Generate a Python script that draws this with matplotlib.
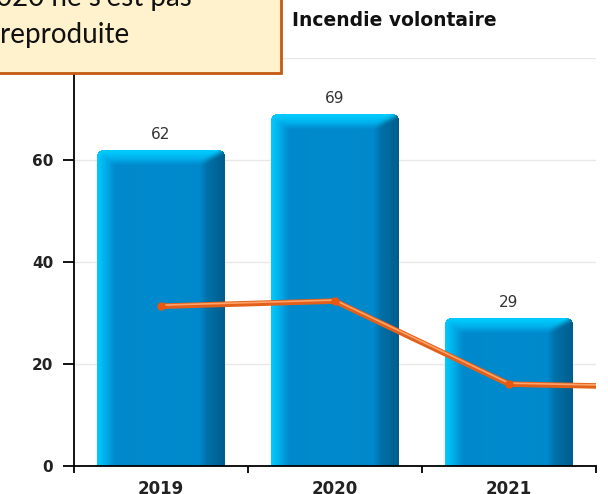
import numpy as np
import matplotlib
matplotlib.use("Agg")
import matplotlib.pyplot as plt
from matplotlib.patches import Rectangle
from matplotlib.transforms import offset_copy

# Data
years = ["2019", "2020", "2021"]
counts = [62, 69, 29]
# orange line (runs on past the last visible year)
trend_x = [0, 1, 2, 3]
trend = [31.3, 32.3, 16.0, 15.3]
y_ticks = [0, 20, 40, 60, 80]

W, H = 608, 494
fig = plt.figure(figsize=(W / 100, H / 100), dpi=100)
ax = fig.add_axes([74 / W, (H - 465.7) / H, (596 - 74) / W, (465.7 - 58) / H])

ax.set_xlim(-0.5, len(years) - 0.5)
ax.set_ylim(0, 80)

# plain bars first, the bevel image is laid over them
bars = ax.bar(range(len(years)), counts, width=0.73, color="#0089cc", zorder=2)
fig.canvas.draw()


def box_blur(a, k):
    # separable box blur with edge padding
    pad = k // 2
    kern = np.ones(k) / k
    a = np.pad(a, ((pad, pad), (pad, pad), (0, 0)), mode="edge")
    a = np.apply_along_axis(lambda r: np.convolve(r, kern, mode="valid"), 1, a)
    a = np.apply_along_axis(lambda c: np.convolve(c, kern, mode="valid"), 0, a)
    return a


def bevel_image(wpx, hpx):
    u = np.arange(wpx)[None, :] + 0.5
    v = np.arange(hpx)[:, None] + 0.5
    u = np.broadcast_to(u, (hpx, wpx))
    v = np.broadcast_to(v, (hpx, wpx))
    tl = u / 16.0
    tr = (wpx - u) / 22.0
    tt = v / 12.0
    rgb = np.zeros((hpx, wpx, 3))
    rgb[...] = np.array([0, 137, 204]) / 255

    def blend(c0, c1, t):
        t = np.clip(t, 0, 1)[..., None]
        return (np.array(c0) * (1 - t) + np.array(c1) * t) / 255

    m = np.minimum(np.minimum(tl, tr), tt)
    left = (tl == m) & (m < 1)
    right = (tr == m) & (m < 1) & ~left
    top = (tt == m) & (m < 1) & ~left & ~right
    rgb[left] = blend([0, 206, 255], [0, 145, 212], tl)[left]
    rgb[right] = blend([0, 92, 140], [0, 118, 175], tr)[right]
    rgb[top] = blend([0, 208, 255], [0, 165, 230], tt)[top]
    rgb = box_blur(rgb, 7)

    img = np.ones((hpx, wpx, 4))
    img[..., :3] = np.clip(rgb, 0, 1)
    # rounded top corners
    r = 6.0
    for cx in (r, wpx - r):
        d = np.hypot(u - cx, v - r)
        zone = (v < r) & ((u < r) | (u > wpx - r)) & (np.abs(u - cx) <= r)
        img[zone & (d > r), 3] = 0
    return img


for b in bars:
    x0, y0 = b.get_x(), b.get_y()
    x1, y1 = x0 + b.get_width(), y0 + b.get_height()
    p0 = ax.transData.transform((x0, y0))
    p1 = ax.transData.transform((x1, y1))
    wpx = int(round(p1[0] - p0[0]))
    hpx = int(round(p1[1] - p0[1]))
    ax.imshow(bevel_image(wpx, hpx), extent=(x0, x1, y0, y1), aspect="auto",
              interpolation="bilinear", zorder=3)
    b.set_visible(False)

ax.set_xlim(-0.5, len(years) - 0.5)
ax.set_ylim(0, 80)

# value labels
for i, c in enumerate(counts):
    ax.annotate(str(c), (i, c), xytext=(0, 11), textcoords="offset points",
                ha="center", va="center", fontsize=11, color="#333333", zorder=6)

# trend line with a light stripe on top
ax.plot(trend_x, trend, color="#e2601a", lw=4, zorder=4, solid_capstyle="butt")
ax.plot(trend_x, trend, color="#ffa36a", lw=1.2, zorder=5,
        transform=offset_copy(ax.transData, fig=fig, x=0, y=1, units="dots"))
ax.plot(trend_x[:3], trend[:3], "o", ms=5, color="#e8580f", zorder=5)

# axes styling
ax.set_yticks(y_ticks)
ax.set_yticklabels([str(t) for t in y_ticks], fontweight="bold", fontsize=11, color="#222222")
ax.tick_params(axis="y", length=8, width=1.3, pad=7)
ax.set_xticks(np.arange(-0.5, len(years), 1.0))
ax.set_xticklabels([])
ax.tick_params(axis="x", which="major", length=5, width=1.3)
ax.set_xticks(range(len(years)), minor=True)
ax.set_xticklabels(years, minor=True, fontweight="bold", fontsize=12, color="#222222")
ax.tick_params(axis="x", which="minor", length=0, pad=10)
ax.grid(axis="y", color="#e8e8e8", lw=1, zorder=0)
ax.set_axisbelow(True)
for s in ("top", "right"):
    ax.spines[s].set_visible(False)
for s in ("left", "bottom"):
    ax.spines[s].set_linewidth(1.3)
    ax.spines[s].set_zorder(7)

fig.text(292 / W, 1 - 20 / H, "Incendie volontaire", fontsize=13.5, fontweight="bold",
         color="#111111", ha="left", va="center")

# callout box laid over the top left corner
box = Rectangle((-5 / W, 1 - 73 / H), 286 / W, 80 / H, transform=fig.transFigure,
                facecolor="#fff2cc", edgecolor="#c55a11", lw=2, zorder=20)
fig.add_artist(box)
fig.text(192 / W, 1 - 6 / H, "2020 ne s'est pas", fontsize=20, family="Lato",
         color="#111111", ha="right", va="baseline", zorder=21)
fig.text(0 / W, 1 - 43 / H, "reproduite", fontsize=20, family="Lato",
         color="#111111", ha="left", va="baseline", zorder=21)

fig.savefig("out.png", dpi=100)
